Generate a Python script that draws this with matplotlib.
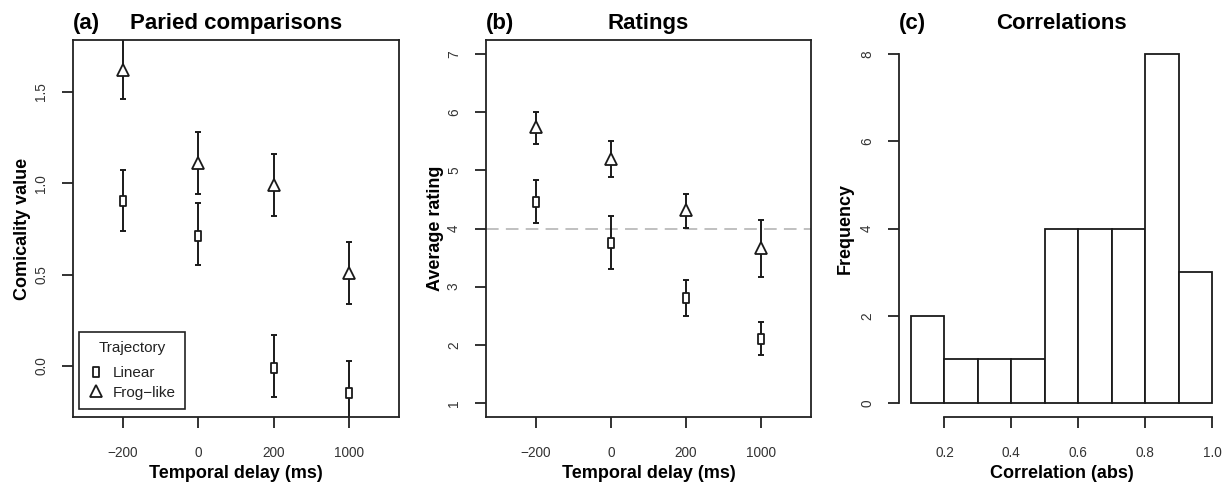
import matplotlib
matplotlib.use("Agg")
import matplotlib.pyplot as plt
from matplotlib.path import Path
from matplotlib.lines import Line2D
import numpy as np

plt.rcParams['font.family'] = ['Liberation Sans', 'DejaVu Sans']

# ---------------- data ----------------
delays = ["\u2212200", "0", "200", "1000"]

# (a) paired comparisons
pc_linear = [0.90, 0.71, -0.01, -0.15]
pc_linear_lo = [0.74, 0.55, -0.17, -0.32]
pc_linear_hi = [1.07, 0.89, 0.17, 0.03]
pc_frog = [1.62, 1.11, 0.99, 0.51]
pc_frog_lo = [1.46, 0.94, 0.82, 0.34]
pc_frog_hi = [1.80, 1.28, 1.16, 0.68]

# (b) ratings
rt_linear = [4.45, 3.75, 2.80, 2.10]
rt_linear_lo = [4.09, 3.31, 2.50, 1.83]
rt_linear_hi = [4.83, 4.22, 3.12, 2.40]
rt_frog = [5.74, 5.20, 4.32, 3.67]
rt_frog_lo = [5.46, 4.88, 4.01, 3.16]
rt_frog_hi = [6.00, 5.51, 4.60, 4.15]
rating_midpoint = 4

# (c) histogram of correlations
corr_edges = [0.1, 0.2, 0.3, 0.4, 0.5, 0.6, 0.7, 0.8, 0.9, 1.0]
corr_counts = [2, 1, 1, 1, 4, 4, 4, 8, 3]

# ---------------- style ----------------
W, H = 1227, 483
fig = plt.figure(figsize=(W / 100, H / 100), dpi=100)

TICK_COLOR = '#333333'
LW = 1.3
rect_marker = Path([(-0.28, -0.5), (0.28, -0.5), (0.28, 0.5), (-0.28, 0.5), (-0.28, -0.5)],
                   [Path.MOVETO, Path.LINETO, Path.LINETO, Path.LINETO, Path.CLOSEPOLY])


def px_axes(left, right, top=40, bottom=417):
    return fig.add_axes([left / W, 1 - bottom / H, (right - left) / W, (bottom - top) / H])


def titles(ax, left_px, right_px, tag, title):
    yb = 1 - 29 / H
    fig.text(left_px / W, yb, tag, ha='left', va='baseline', fontsize=16, fontweight='bold')
    fig.text((left_px + right_px) / 2 / W, yb, title, ha='center', va='baseline',
             fontsize=16, fontweight='bold')


def style_ticks(ax):
    ax.tick_params(axis='x', length=8, width=LW, pad=13, labelsize=9.8, labelcolor=TICK_COLOR,
                   color='#222222')
    ax.tick_params(axis='y', length=8, width=LW, pad=10, labelsize=9.8, labelcolor=TICK_COLOR,
                   color='#222222', labelrotation=90)
    for lab in ax.get_yticklabels():
        lab.set_verticalalignment('center')


def errplot(ax, x, y, lo, hi, marker, ms):
    y = np.asarray(y)
    yerr = [y - np.asarray(lo), np.asarray(hi) - y]
    ax.errorbar(x, y, yerr=yerr, fmt='none', ecolor='#1a1a1a', elinewidth=1.4,
                capsize=2.5, capthick=1.4, zorder=2)
    ax.plot(x, y, linestyle='none', marker=marker, markersize=ms, markerfacecolor='white',
            markeredgecolor='#1a1a1a', markeredgewidth=1.3, zorder=3)


xpos = np.arange(1, len(delays) + 1)

# ---------------- (a) ----------------
axa = px_axes(73, 399)
errplot(axa, xpos, pc_linear, pc_linear_lo, pc_linear_hi, rect_marker, 6.5)
errplot(axa, xpos, pc_frog, pc_frog_lo, pc_frog_hi, '^', 8.5)
axa.set_xlim(0.34, 4.66)
axa.set_ylim(-0.279, 1.783)
axa.set_xticks(xpos)
axa.set_xticklabels(delays)
axa.set_yticks([0.0, 0.5, 1.0, 1.5])
axa.set_yticklabels(["0.0", "0.5", "1.0", "1.5"])
style_ticks(axa)
for sp in axa.spines.values():
    sp.set_linewidth(LW)
    sp.set_color('#222222')
axa.set_xlabel("Temporal delay (ms)", fontsize=13, fontweight='bold', va='center')
axa.xaxis.set_label_coords(0.5, (417 - 473) / 377)
axa.set_ylabel("Comicality value", fontsize=13, fontweight='bold', va='center')
axa.yaxis.set_label_coords((23 - 73) / 326, 0.5)
handles = [
    Line2D([], [], linestyle='none', marker=rect_marker, markersize=6.5, markerfacecolor='white',
           markeredgecolor='#1a1a1a', markeredgewidth=1.3),
    Line2D([], [], linestyle='none', marker='^', markersize=8.5, markerfacecolor='white',
           markeredgecolor='#1a1a1a', markeredgewidth=1.3),
]
leg = axa.legend(handles, ["Linear", "Frog\u2212like"], title="Trajectory", loc='lower left',
                 bbox_to_anchor=((79 - 73) / 326, (417 - 409) / 377), borderaxespad=0,
                 fontsize=11, title_fontsize=11, frameon=True, fancybox=False,
                 edgecolor='#222222', framealpha=1, handlelength=1.0, handletextpad=0.6,
                 labelspacing=0.35, borderpad=0.6)
leg._legend_box.sep = 8
leg.get_frame().set_linewidth(1.2)
for t in leg.get_texts():
    t.set_color('#222222')
leg.get_title().set_color('#222222')
titles(axa, 73, 399, "(a)", "Paried comparisons")

# ---------------- (b) ----------------
axb = px_axes(486, 811)
axb.axhline(rating_midpoint, color='#bbbbbb', linestyle=(0, (7, 4)), linewidth=1.3, zorder=1)
errplot(axb, xpos, rt_linear, rt_linear_lo, rt_linear_hi, rect_marker, 6.5)
errplot(axb, xpos, rt_frog, rt_frog_lo, rt_frog_hi, '^', 8.5)
axb.set_xlim(0.34, 4.66)
axb.set_ylim(0.76, 7.24)
axb.set_xticks(xpos)
axb.set_xticklabels(delays)
axb.set_yticks([1, 2, 3, 4, 5, 6, 7])
style_ticks(axb)
for sp in axb.spines.values():
    sp.set_linewidth(LW)
    sp.set_color('#222222')
axb.set_xlabel("Temporal delay (ms)", fontsize=13, fontweight='bold', va='center')
axb.xaxis.set_label_coords(0.5, (417 - 473) / 377)
axb.set_ylabel("Average rating", fontsize=13, fontweight='bold', va='center')
axb.yaxis.set_label_coords((435 - 486) / 325, 0.5)
titles(axb, 486, 811, "(b)", "Ratings")

# ---------------- (c) ----------------
axc = px_axes(899, 1224)
edges = np.asarray(corr_edges)
axc.bar(edges[:-1], corr_counts, width=np.diff(edges), align='edge', facecolor='white',
        edgecolor='#1a1a1a', linewidth=1.3)
axc.set_xlim(0.064, 1.036)
axc.set_ylim(-0.32, 8.32)
axc.set_xticks([0.2, 0.4, 0.6, 0.8, 1.0])
axc.set_xticklabels(["0.2", "0.4", "0.6", "0.8", "1.0"])
axc.set_yticks([0, 2, 4, 6, 8])
style_ticks(axc)
axc.spines['top'].set_visible(False)
axc.spines['right'].set_visible(False)
axc.spines['left'].set_bounds(0, 8)
axc.spines['bottom'].set_bounds(0.2, 1.0)
for sp in ('left', 'bottom'):
    axc.spines[sp].set_linewidth(LW)
    axc.spines[sp].set_color('#222222')
axc.set_xlabel("Correlation (abs)", fontsize=13, fontweight='bold', va='center')
axc.xaxis.set_label_coords(0.5, (417 - 473) / 377)
axc.set_ylabel("Frequency", fontsize=13, fontweight='bold', va='center')
axc.yaxis.set_label_coords((845 - 899) / 325, 0.5)
titles(axc, 899, 1224, "(c)", "Correlations")

fig.savefig("out.png", dpi=100, facecolor='white')
